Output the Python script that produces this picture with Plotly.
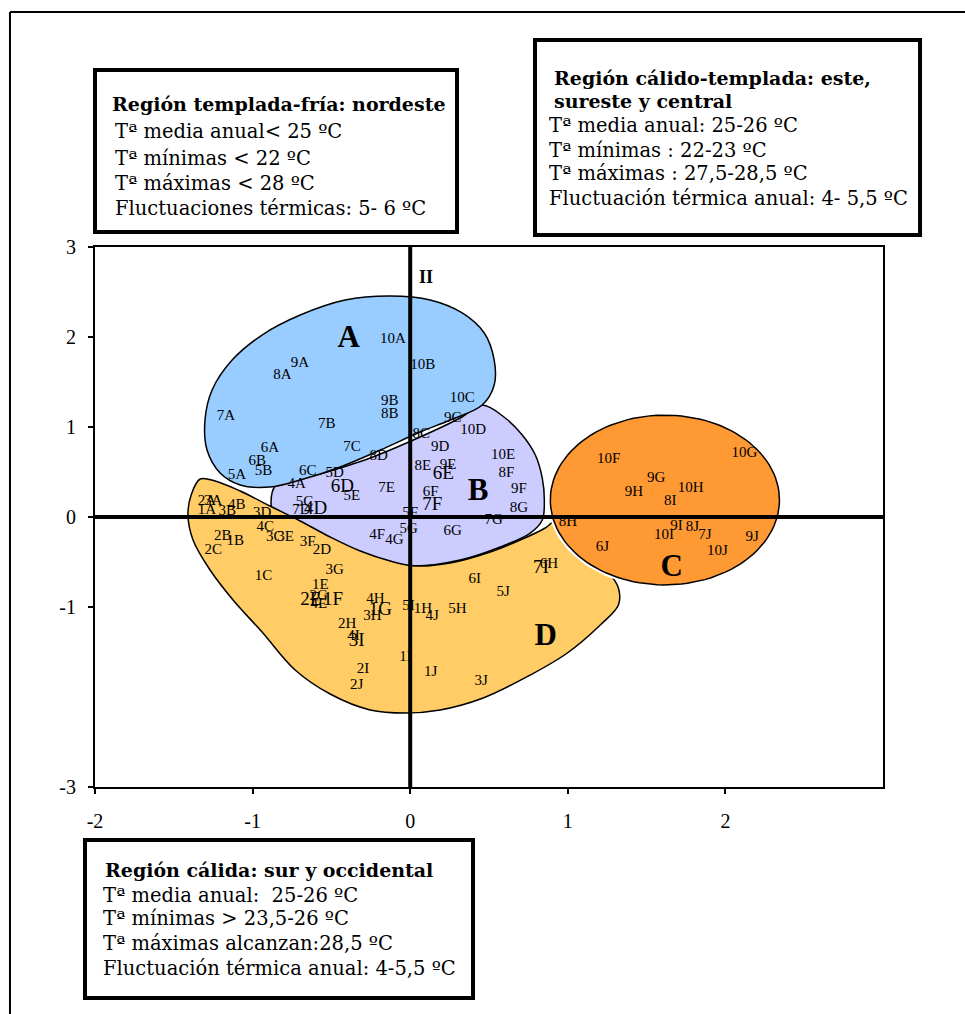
import numpy as np
import plotly.graph_objects as go

# ---------------- data ----------------
# Station labels (normal size)
lab_names = ["10A", "10B", "9A", "8A", "7A", "9B", "8B", "10C", "9C", "7B", "10D", "8C",
             "6A", "7C", "9D", "8D", "6B", "10E", "8E", "9E", "5B", "6C", "5A", "5D", "4A",
             "5E", "7E", "8F", "9F", "8G", "6F", "5F", "5C", "7D", "7G", "6G", "5G", "4G", "4F",
             "10F", "10G", "9G", "9H", "10H", "8I", "8H", "9I", "8J", "10I", "7J", "9J", "6J", "10J", "6H",
             "2A", "3A", "1A", "3B", "4B", "3D", "4C", "3C", "3E", "3F", "2D", "2B", "1B", "2C", "1C",
             "3G", "1E", "2G", "4E", "4H", "3H", "2H", "5I", "1H", "4I", "1I", "2I", "2J", "1J", "3J",
             "4J", "5H", "6I", "5J"]
lab_x = [-0.11, 0.08, -0.70, -0.81, -1.17, -0.13, -0.13, 0.33, 0.27, -0.53, 0.40, 0.07,
         -0.89, -0.37, 0.19, -0.20, -0.97, 0.59, 0.08, 0.24, -0.93, -0.65, -1.10, -0.48, -0.72,
         -0.37, -0.15, 0.61, 0.69, 0.69, 0.13, 0.00, -0.67, -0.69, 0.53, 0.27, -0.01, -0.10, -0.21,
         1.26, 2.12, 1.56, 1.42, 1.78, 1.65, 1.00, 1.69, 1.79, 1.61, 1.87, 2.17, 1.22, 1.95, 0.88,
         -1.29, -1.25, -1.29, -1.16, -1.10, -0.94, -0.92, -0.86, -0.79, -0.65, -0.56, -1.19, -1.11, -1.25, -0.93,
         -0.48, -0.57, -0.58, -0.58, -0.22, -0.24, -0.40, -0.01, 0.08, -0.36, -0.03, -0.30, -0.34, 0.13, 0.45,
         0.14, 0.30, 0.41, 0.59]
lab_y = [1.97, 1.69, 1.71, 1.57, 1.12, 1.29, 1.14, 1.32, 1.10, 1.03, 0.96, 0.92,
         0.76, 0.77, 0.77, 0.68, 0.62, 0.69, 0.56, 0.57, 0.51, 0.51, 0.46, 0.49, 0.36,
         0.23, 0.32, 0.49, 0.31, 0.10, 0.27, 0.04, 0.16, 0.07, -0.04, -0.16, -0.14, -0.26, -0.20,
         0.64, 0.71, 0.43, 0.27, 0.32, 0.17, -0.06, -0.10, -0.11, -0.20, -0.20, -0.22, -0.34, -0.38, -0.53,
         0.18, 0.18, 0.07, 0.06, 0.13, 0.04, -0.11, -0.22, -0.22, -0.28, -0.37, -0.21, -0.27, -0.37, -0.66,
         -0.59, -0.76, -0.88, -0.97, -0.91, -1.10, -1.19, -0.99, -1.02, -1.33, -1.56, -1.69, -1.87, -1.72, -1.83,
         -1.10, -1.03, -0.69, -0.84]

# Station labels drawn larger
big_names = ["6E", "7F", "6D", "4D", "2E", "1F", "1G", "3I", "7I"]
big_x = [0.21, 0.14, -0.43, -0.60, -0.63, -0.49, -0.19, -0.34, 0.83]
big_y = [0.47, 0.13, 0.33, 0.09, -0.92, -0.92, -1.04, -1.38, -0.57]

# Region letters
reg_names = ["A", "B", "C", "D"]
reg_x = [-0.39, 0.43, 1.66, 0.86]
reg_y = [1.97, 0.28, -0.57, -1.34]

# Region outlines (component space)
region_a_x = [-0.127, 0.127, 0.330, 0.470, 0.533, 0.533, 0.457, 0.254, 0.063, -0.190, -0.444, -0.698,
              -0.889, -1.079, -1.206, -1.289, -1.302, -1.257, -1.130, -0.940, -0.698, -0.413, -0.127]
region_a_y = [2.456, 2.411, 2.267, 2.044, 1.744, 1.467, 1.244, 1.078, 0.944, 0.744, 0.556, 0.411,
              0.333, 0.356, 0.489, 0.744, 1.078, 1.411, 1.744, 2.022, 2.244, 2.411, 2.456]
region_b_x = [-0.857, -0.857, -0.571, -0.254, 0.063, 0.317, 0.457, 0.603, 0.711, 0.794, 0.838, 0.851,
              0.838, 0.762, 0.571, 0.317, 0.032, -0.254, -0.508, -0.698, -0.857]
region_b_y = [-0.033, 0.344, 0.478, 0.656, 0.889, 1.100, 1.244, 1.100, 0.911, 0.689, 0.433, 0.189,
              -0.033, -0.178, -0.333, -0.478, -0.544, -0.478, -0.311, -0.144, -0.033]
region_d_x = [-1.333, -1.238, -1.079, -0.889, -0.698, -0.508, -0.317, -0.127, 0.032, 0.254, 0.508, 0.698,
              0.857, 0.921, 0.965, 1.048, 1.156, 1.257, 1.321, 1.321, 1.206, 0.997, 0.762, 0.463, 0.190,
              -0.032, -0.254, -0.508, -0.730, -0.940, -1.124, -1.270, -1.378, -1.410, -1.390, -1.333]
region_d_y = [0.422, 0.400, 0.289, 0.122, -0.044, -0.222, -0.378, -0.489, -0.544, -0.511, -0.389, -0.256,
              -0.122, -0.044, -0.144, -0.344, -0.511, -0.622, -0.789, -0.978, -1.200, -1.511, -1.756,
              -2.011, -2.144, -2.178, -2.144, -1.967, -1.700, -1.278, -0.922, -0.589, -0.256, 0.022, 0.244, 0.422]
region_c_center = [1.616, 0.189]
region_c_radius = [0.727, 0.944]

x_tickvals = [-2, -1, 0, 1, 2]
x_ticktext = ["-2", "-1", "0", "1", "2"]
y_tickvals = [3, 2, 1, 0, -1, -3]
y_ticktext = ["3", "2", "1", "0", "-1", "-3"]

box1_lines = ["<b>Región templada-fría: nordeste</b>", "Tª media anual< 25 ºC", "Tª mínimas < 22 ºC",
              "Tª máximas < 28 ºC", "Fluctuaciones térmicas: 5- 6 ºC"]
box2_lines = ["<b>Región cálido-templada: este,</b>", "<b>sureste y central</b>", "Tª media anual: 25-26 ºC",
              "Tª mínimas : 22-23 ºC", "Tª máximas : 27,5-28,5 ºC", "Fluctuación térmica anual: 4- 5,5 ºC"]
box3_lines = ["<b>Región cálida: sur y occidental</b>", "Tª media anual:  25-26 ºC", "Tª mínimas > 23,5-26 ºC",
              "Tª máximas alcanzan:28,5 ºC", "Fluctuación térmica anual: 4-5,5 ºC"]

# ---------------- figure ----------------
COL_A = "#99CCFF"
COL_B = "#CCCCFF"
COL_C = "#FF9933"
COL_D = "#FFCC66"

fig = go.Figure()

def region(xs, ys, color):
    fig.add_trace(go.Scatter(x=xs, y=ys, mode="lines", fill="toself", fillcolor=color,
                             line=dict(color="black", width=1.5, shape="spline", smoothing=1.0),
                             hoverinfo="skip", showlegend=False))

region(region_b_x, region_b_y, COL_B)
region(region_d_x, region_d_y, COL_D)
region(region_a_x, region_a_y, COL_A)

t = np.linspace(0, 2 * np.pi, 120)
cx = region_c_center[0] + region_c_radius[0] * np.cos(t)
cy = region_c_center[1] + region_c_radius[1] * np.sin(t)
fig.add_trace(go.Scatter(x=cx, y=cy, mode="lines", line=dict(color="white", width=6),
                         hoverinfo="skip", showlegend=False))
fig.add_trace(go.Scatter(x=cx, y=cy, mode="lines", fill="toself", fillcolor=COL_C,
                         line=dict(color="black", width=1.5), hoverinfo="skip", showlegend=False))

fig.add_trace(go.Scatter(x=lab_x, y=lab_y, mode="text", text=lab_names,
                         textfont=dict(family="Liberation Serif", size=15, color="black"),
                         cliponaxis=False, hoverinfo="skip", showlegend=False))
fig.add_trace(go.Scatter(x=big_x, y=big_y, mode="text", text=big_names,
                         textfont=dict(family="Liberation Serif", size=19, color="black"),
                         cliponaxis=False, hoverinfo="skip", showlegend=False))
fig.add_trace(go.Scatter(x=reg_x, y=reg_y, mode="text", text=["<b>%s</b>" % n for n in reg_names],
                         textfont=dict(family="Liberation Serif", size=31, color="black"),
                         cliponaxis=False, hoverinfo="skip", showlegend=False))

# axis cross lines (components I and II)
fig.add_shape(type="line", xref="x", yref="y", x0=-2, x1=3, y0=0, y1=0,
              line=dict(color="black", width=4), layer="above")
fig.add_shape(type="line", xref="x", yref="y", x0=0, x1=0, y0=-3, y1=3,
              line=dict(color="black", width=4), layer="above")
fig.add_annotation(x=0.1, y=2.67, xref="x", yref="y", text="<b>II</b>", showarrow=False,
                   font=dict(family="Liberation Serif", size=18, color="black"))
fig.add_annotation(x=3.12, y=-0.04, xref="x", yref="y", text="<b>I</b>", showarrow=False,
                   font=dict(family="Liberation Serif", size=18, color="black"))

# outer frame
fig.add_shape(type="line", xref="paper", yref="paper", x0=-0.1079, x1=1.11, y0=1.4352, y1=1.4352,
              line=dict(color="black", width=2))
fig.add_shape(type="line", xref="paper", yref="paper", x0=-0.1079, x1=-0.1079, y0=1.4352, y1=-0.43,
              line=dict(color="black", width=2))

# info boxes
boxes = [
    (0.0, 0.4594, 1.0278, 1.3278, box1_lines, [0.019] + [0.0228] * 4,
     [1.2648, 1.2130, 1.1648, 1.1185, 1.0704]),
    (0.5584, 1.0470, 1.0222, 1.3833, box2_lines, [0.58, 0.58] + [0.5736] * 4,
     [1.3130, 1.2704, 1.2241, 1.1796, 1.1352, 1.0889]),
    (-0.0127, 0.4797, -0.3907, -0.0981, box3_lines, [0.0102] + [0.0076] * 4,
     [-0.1537, -0.2000, -0.2444, -0.2889, -0.3352]),
]
for x0, x1, y0, y1, lines, xs, ys in boxes:
    fig.add_shape(type="rect", xref="paper", yref="paper", x0=x0, x1=x1, y0=y0, y1=y1,
                  line=dict(color="black", width=4), fillcolor="white")
    for txt, tx, ty in zip(lines, xs, ys):
        bold = txt.startswith("<b>")
        fig.add_annotation(x=tx, y=ty, xref="paper", yref="paper", text=txt, showarrow=False,
                           xanchor="left", yanchor="middle",
                           font=dict(family="DejaVu Serif", size=19 if bold else 19.5, color="black"))

fig.update_xaxes(range=[-2, 3], tickvals=x_tickvals, ticktext=x_ticktext, showgrid=False,
                 zeroline=False, showline=True, mirror=True, linecolor="black", linewidth=2,
                 ticks="outside", ticklen=5, tickwidth=1.5, tickcolor="black", ticklabelstandoff=10,
                 tickfont=dict(family="Liberation Serif", size=20, color="black"))
fig.update_yaxes(range=[-3, 3], tickvals=y_tickvals, ticktext=y_ticktext, showgrid=False,
                 zeroline=False, showline=True, mirror=True, linecolor="black", linewidth=2,
                 ticks="outside", ticklen=5, tickwidth=1.5, tickcolor="black", ticklabelstandoff=8,
                 tickfont=dict(family="Liberation Serif", size=20, color="black"))

fig.update_layout(width=965, height=1014, margin=dict(l=95, r=82, t=247, b=227),
                  plot_bgcolor="white", paper_bgcolor="white", showlegend=False)

fig.write_html("out.html")
